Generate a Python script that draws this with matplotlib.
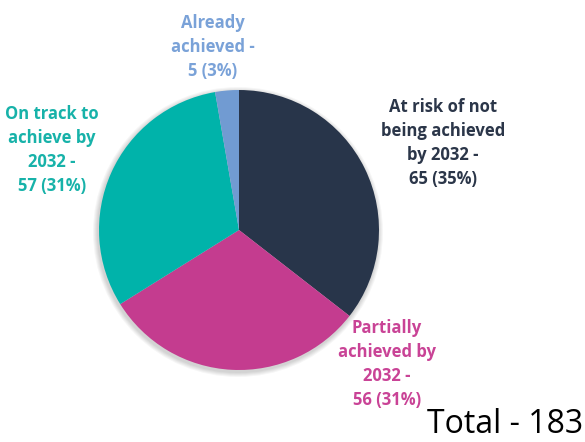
import matplotlib.pyplot as plt
from matplotlib.patches import Circle

plt.rcParams['font.family'] = ['Open Sans', 'DejaVu Sans']

# slice data, clockwise from 12 o'clock
categories = ["At risk of not\nbeing achieved\nby 2032 -",
              "Partially\nachieved by\n2032 -",
              "On track to\nachieve by\n2032 -",
              "Already\nachieved -"]
counts = [65, 56, 57, 5]
percents = [35, 31, 31, 3]
slice_colors = ["#28354a", "#c43c8f", "#00b3aa", "#719bd2"]
text_colors = ["#2b3649", "#c94396", "#17b2a9", "#7aa2d8"]

# label centres in pixel space (x, y from top)
label_pos = [(443, 143), (387, 364), (52, 150), (213, 47)]

W, H = 585, 442
fig = plt.figure(figsize=(W / 100, H / 100), dpi=100)
ax = fig.add_axes([0, 0, 1, 1])

cx, cy, r = 239, H - 230, 140

# soft drop shadow behind the pie
for i in range(5):
    ax.add_patch(Circle((cx - 1, cy - 2), r + 5 - i, color='#000000', alpha=0.035, lw=0, zorder=0))

ax.pie(counts, colors=slice_colors, startangle=90, counterclock=False,
       center=(cx, cy), radius=r, frame=True,
       wedgeprops=dict(linewidth=0, zorder=2))
ax.set_xlim(0, W)
ax.set_ylim(0, H)
ax.set_aspect('equal')
ax.axis('off')

for cat, n, p, col, (x, y) in zip(categories, counts, percents, text_colors, label_pos):
    ax.text(x, H - y, f"{cat}\n{n} ({p}%)", color=col, ha='center', va='center',
            fontsize=12, fontweight='bold', linespacing=1.45)

ax.text(583, 1, f"Total - {sum(counts)}", ha='right', va='bottom',
        fontsize=23, color='black')

fig.savefig('out.png', dpi=100)
